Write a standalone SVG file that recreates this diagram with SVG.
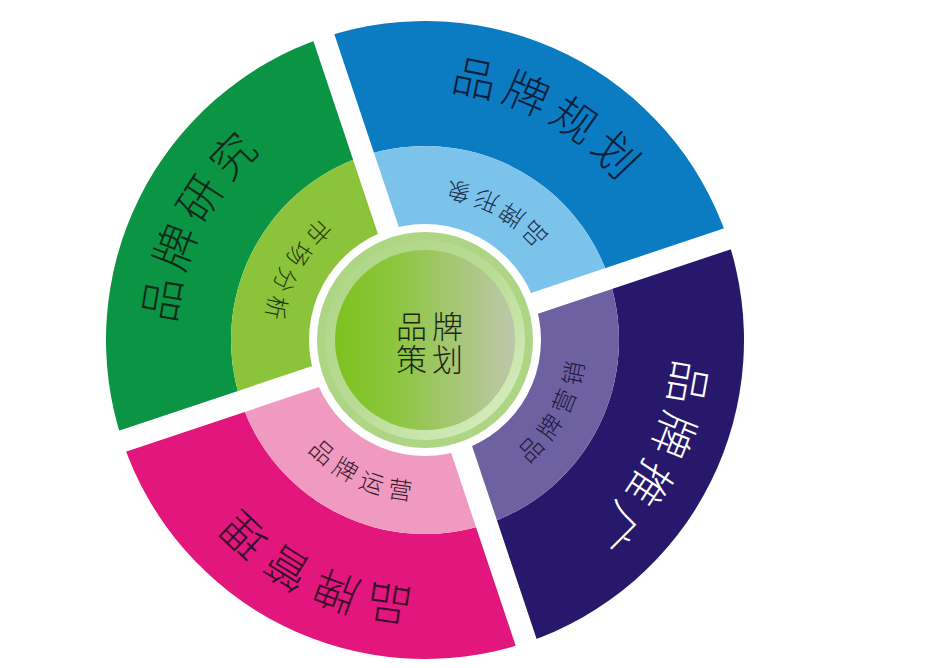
<svg xmlns="http://www.w3.org/2000/svg" width="945" height="668" viewBox="0 0 945 668">
<style>
.lbl{font-family:"Noto Sans CJK SC","Noto Sans CJK JP",sans-serif;font-weight:300}
.outer{font-size:44px;letter-spacing:7px}
.inner{font-size:24px;letter-spacing:7px}
.gap{stroke:#ffffff;stroke-width:22;fill:none}
.ctr{font-family:"Noto Sans CJK SC","Noto Sans CJK JP",sans-serif;font-weight:300;font-size:31px;fill:#1c2814}
</style>
<defs>
<path id="arcOut" d="M 208.5 215 A 250 250 0 0 1 641.5 215"/>
<path id="arcIn" d="M 564.4 259.5 A 161 161 0 0 0 285.6 259.5"/>
<linearGradient id="hl" x1="0" y1="0" x2="1" y2="1">
<stop offset="0" stop-color="#aed584"/>
<stop offset="0.5" stop-color="#b9dc95"/>
<stop offset="1" stop-color="#dbefc4"/>
</linearGradient>
<linearGradient id="core" x1="0" y1="0" x2="1" y2="0">
<stop offset="0" stop-color="#7cc21e"/>
<stop offset="0.35" stop-color="#8ec641"/>
<stop offset="1" stop-color="#bec7ab"/>
</linearGradient>
</defs>
<rect width="945" height="668" fill="#ffffff"/>

<g id="node-brand-research">
<g transform="rotate(-18.5 425 340)">
<path fill="#0a9443" d="M 231 340 L 106 340 A 319 319 0 0 1 425 21 L 425 146 A 194 194 0 0 0 231 340 Z"/>
<path fill="#8bc43a" d="M 425 340 L 231 340 A 194 194 0 0 1 425 146 Z"/>
</g>
<text class="lbl outer" fill="#0d2a1a" transform="rotate(297 425 340)"><textPath href="#arcOut" startOffset="50%" text-anchor="middle">品牌研究</textPath></text>
<text class="lbl inner" fill="#1f3a10" transform="rotate(297.5 425 340)"><textPath href="#arcIn" startOffset="50%" text-anchor="middle">市场分析</textPath></text>
</g>

<g id="node-brand-planning">
<g transform="rotate(-18.5 425 340)">
<path fill="#0b7bc2" d="M 425 146 L 425 21 A 319 319 0 0 1 744 340 L 619 340 A 194 194 0 0 0 425 146 Z"/>
<path fill="#7cc3ec" d="M 425 340 L 425 146 A 194 194 0 0 1 619 340 Z"/>
</g>
<text class="lbl outer" fill="#0a1f3a" transform="rotate(29 425 340)"><textPath href="#arcOut" startOffset="50%" text-anchor="middle">品牌规划</textPath></text>
<text class="lbl inner" fill="#1a2d4a" transform="rotate(28 425 340)"><textPath href="#arcIn" startOffset="50%" text-anchor="middle">品牌形象</textPath></text>
</g>

<g id="node-brand-promotion">
<g transform="rotate(-18.5 425 340)">
<path fill="#28186c" d="M 619 340 L 744 340 A 319 319 0 0 1 425 659 L 425 534 A 194 194 0 0 0 619 340 Z"/>
<path fill="#6d61a2" d="M 425 340 L 619 340 A 194 194 0 0 1 425 534 Z"/>
</g>
<text class="lbl outer" fill="#ffffff" transform="rotate(117.5 425 340)"><textPath href="#arcOut" startOffset="50%" text-anchor="middle">品牌推广</textPath></text>
<text class="lbl inner" fill="#1e1840" transform="rotate(118 425 340)"><textPath href="#arcIn" startOffset="50%" text-anchor="middle">品牌营销</textPath></text>
</g>

<g id="node-brand-management">
<g transform="rotate(-18.5 425 340)">
<path fill="#e2167c" d="M 425 534 L 425 659 A 319 319 0 0 1 106 340 L 231 340 A 194 194 0 0 0 425 534 Z"/>
<path fill="#f19ac1" d="M 425 340 L 425 534 A 194 194 0 0 1 231 340 Z"/>
</g>
<text class="lbl outer" fill="#3a0a2a" transform="rotate(206 425 340)"><textPath href="#arcOut" startOffset="50%" text-anchor="middle">品牌管理</textPath></text>
<text class="lbl inner" fill="#3a1a2a" transform="rotate(204.7 425 340)"><textPath href="#arcIn" startOffset="50%" text-anchor="middle">品牌运营</textPath></text>
</g>

<g id="separators" transform="rotate(-18.5 425 340)">
<path class="gap" d="M 90 340 L 760 340"/>
<path class="gap" d="M 425 5 L 425 675"/>
</g>

<g id="node-center">
<circle cx="425" cy="340" r="116" fill="#ffffff"/>
<circle cx="425" cy="340" r="108" fill="#aed584"/>
<circle cx="425" cy="340" r="95" fill="none" stroke="url(#hl)" stroke-width="10"/>
<circle cx="425" cy="340" r="90" fill="url(#core)"/>
<text class="ctr"><tspan x="396 432" y="338">品牌</tspan><tspan x="396 432" y="371">策划</tspan></text>
</g>
</svg>
